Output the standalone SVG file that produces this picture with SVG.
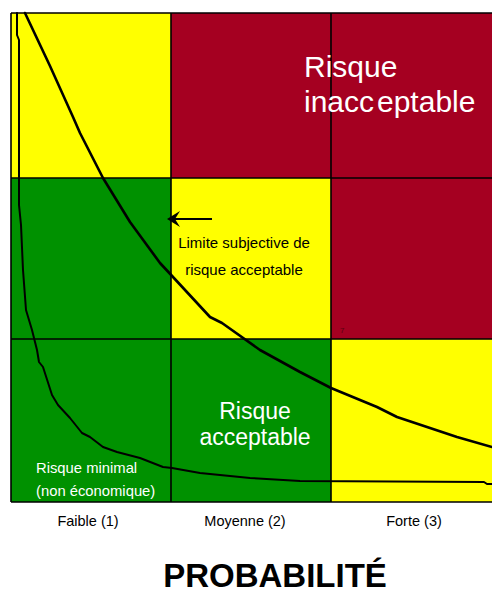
<svg xmlns="http://www.w3.org/2000/svg" width="492" height="595" viewBox="0 0 492 595">
<style>
.y{fill:#FFFF00}.r{fill:#A50021}.g{fill:#009100}
.grid{stroke:#000;stroke-width:1.6;fill:none}
.w{fill:#fff;font-family:"Liberation Sans",Arial,sans-serif}
.b{fill:#000;font-family:"Liberation Sans",Arial,sans-serif}
.curve{fill:none;stroke:#000;stroke-linejoin:round;stroke-linecap:round}
</style>
<rect width="492" height="595" fill="#fff"/>
<g id="cells">
<rect class="y" x="11" y="13" width="160" height="165"/>
<rect class="r" x="171" y="13" width="160" height="165"/>
<rect class="r" x="331" y="13" width="161" height="165"/>
<rect class="g" x="11" y="178" width="160" height="161"/>
<rect class="y" x="171" y="178" width="160" height="161"/>
<rect class="r" x="331" y="178" width="161" height="161"/>
<rect class="g" x="11" y="339" width="160" height="163"/>
<rect class="g" x="171" y="339" width="160" height="163"/>
<rect class="y" x="331" y="339" width="161" height="163"/>
</g>
<g id="grid" class="grid">
<path d="M11 13H493M11 178H493M11 339H493M11 502H493M11 13V502M171 13V502M331 13V502"/>
</g>
<g id="connectors">
<path class="curve" stroke-width="2.6" d="M25 13L50 66L73 117L80 133L103 178L130 222L160 263L173 277L210 317L222 323L260 350L300 372L331 388L377 407L397 417L457 437L492 447"/>
<path class="curve" stroke-width="2" d="M17 13L17 35L19 40L19 205L21 225L23 270L26 310L32 330L37 350L39 362L43 367L52 395L58 405L70 418L82 433L90 437L103 447L117 452L140 458L163 467L172 468L200 473L250 478L300 481L484 482L487 484L493 484"/>
<path d="M212 219H172" stroke="#000" stroke-width="1.8"/>
<path d="M167 219L180 211L175 219L180 227Z" fill="#000"/>
</g>
<g id="label-inacceptable">
<text class="w" x="304" y="77" font-size="30">Risque</text>
<text class="w" y="112" font-size="30"><tspan x="304">inacc</tspan><tspan x="377">eptable</tspan></text>
</g>
<g id="label-acceptable">
<text class="w" x="255" y="419" font-size="23" text-anchor="middle">Risque</text>
<text class="w" x="255" y="445" font-size="23" text-anchor="middle">acceptable</text>
</g>
<g id="label-limite">
<text class="b" x="244" y="248" font-size="15" text-anchor="middle">Limite subjective de</text>
<text class="b" x="244" y="275" font-size="15" text-anchor="middle">risque acceptable</text>
</g>
<g id="label-minimal">
<text class="w" x="36" y="473" font-size="14.8">Risque minimal</text>
<text class="w" x="36" y="496" font-size="14.8">(non économique)</text>
</g>
<text x="340" y="333" font-size="8" fill="#5a0010" font-family="Liberation Sans,Arial,sans-serif">7</text>
<g id="axis">
<text class="b" x="88" y="526" font-size="14.5" text-anchor="middle">Faible (1)</text>
<text class="b" x="245" y="526" font-size="14.5" text-anchor="middle">Moyenne (2)</text>
<text class="b" x="414" y="526" font-size="14.5" text-anchor="middle">Forte (3)</text>
<text class="b" x="275" y="587" font-size="33" font-weight="bold" text-anchor="middle">PROBABILITÉ</text>
</g>
</svg>
